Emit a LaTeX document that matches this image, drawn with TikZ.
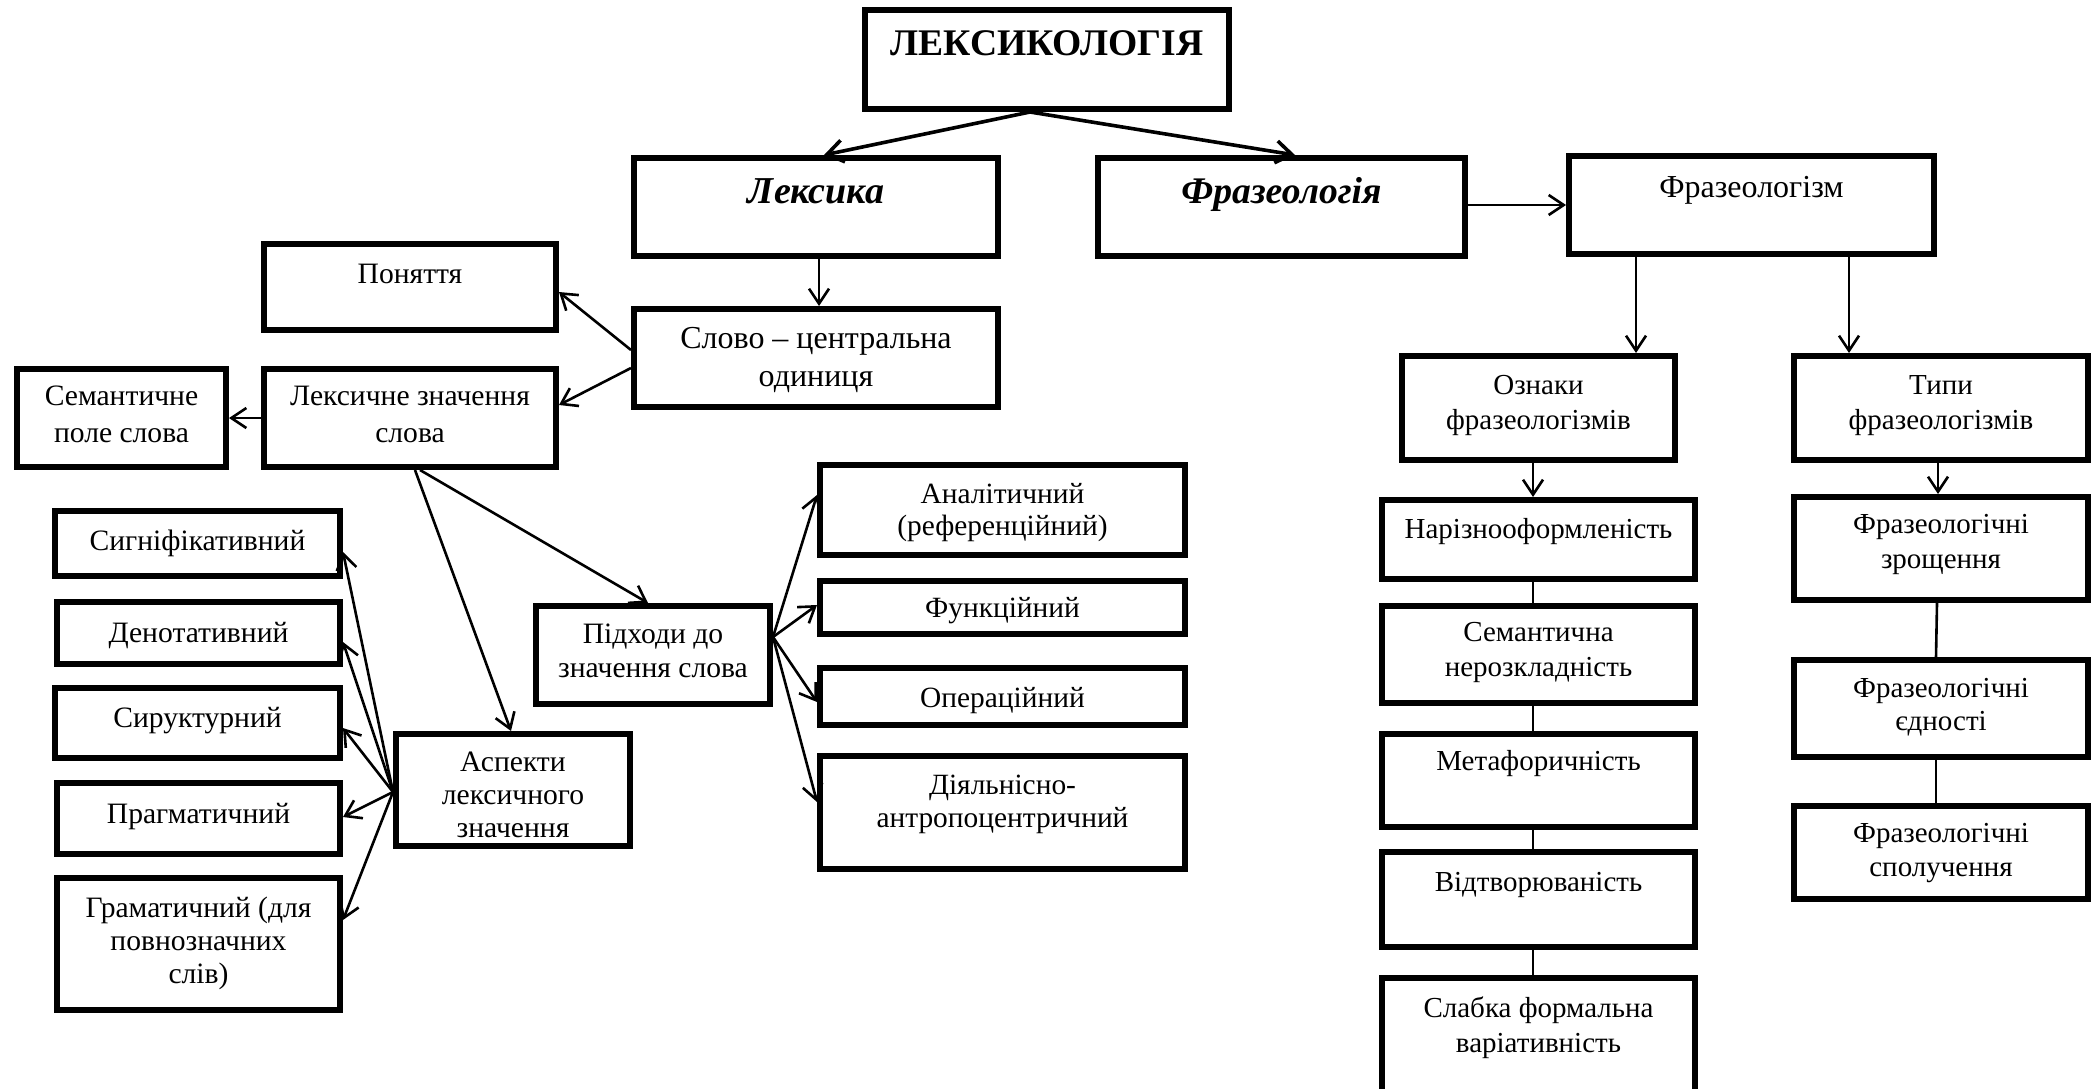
\documentclass[tikz,border=0pt]{standalone}
\usepackage{fontspec}
\setmainfont{Liberation Serif}
\usetikzlibrary{arrows.meta,calc}

\tikzset{
  box/.style={draw, line width=3pt, inner sep=0pt},
  txt/.style={align=center, inner sep=0pt, anchor=north},
  link/.style={line width=1.3pt},
  arr/.style={link, -{Straight Barb[length=7.5pt,width=10pt]}},
  bigarr/.style={line width=1.8pt, -{Straight Barb[length=8pt,width=11pt]}},
}

% \mkbox{name}{x1}{y1}{x2}{y2}{first baseline}{font size}{line skip}{text}
\newcommand{\mkbox}[9]{%
  \node[box, minimum width={(#4-#2-6)*0.5pt}, minimum height={(#5-#3-6)*0.5pt}]
    (#1) at ({(#2+#4)/2},{(#3+#5)/2}) {};
  \node[txt, font={\fontsize{#7}{#8}\selectfont}]
    (#1-t) at ({(#2+#4)/2},{#6-1.4*#8}) {\strut #9};
}

\begin{document}
\begin{tikzpicture}[x=0.5pt,y=-0.5pt]
\path[use as bounding box] (0,0) rectangle (2098,1088);
\fill[white] (0,0) rectangle (2098,1088);
\clip (0,0) rectangle (2098,1088);

% top level
\mkbox{lexk}{862}{7}{1232}{112}{55}{18.8}{21}{\bfseries ЛЕКСИКОЛОГІЯ}
\mkbox{leksyka}{631}{155}{1001}{259}{203}{19}{21}{\bfseries\itshape Лексика}
\mkbox{fraz}{1095}{155}{1468}{259}{203}{18.8}{21}{\bfseries\itshape Фразеологія}
\mkbox{frazm}{1566}{153}{1937}{257}{197}{16}{19}{Фразеологізм}

% lexis branch
\mkbox{ponyattia}{261}{241}{559}{333}{283}{14.8}{18.5}{Поняття}
\mkbox{slovo}{631}{306}{1001}{410}{348}{16}{19}{Слово – центральна\\одиниця}
\mkbox{semant}{14}{366}{229}{470}{405}{14.8}{18.5}{Семантичне\\поле слова}
\mkbox{leksznach}{261}{366}{559}{470}{405}{14.8}{18.5}{Лексичне значення\\слова}

% aspects of lexical meaning
\mkbox{sign}{52}{508}{343}{579}{550}{14.8}{16.5}{Сигніфікативний}
\mkbox{denot}{54}{599}{343}{667}{642}{14.8}{16.5}{Денотативний}
\mkbox{struct}{52}{685}{343}{761}{727}{14.8}{16.5}{Сируктурний}
\mkbox{pragm}{54}{780}{343}{857}{823}{14.8}{16.5}{Прагматичний}
\mkbox{gram}{54}{875}{343}{1013}{917}{14.8}{16.5}{Граматичний (для\\повнозначних\\слів)}
\mkbox{aspekty}{393}{731}{633}{849}{771}{14.8}{16.5}{Аспекти\\лексичного\\значення}

% approaches to word meaning
\mkbox{pidkhody}{533}{603}{773}{707}{643}{14.8}{17}{Підходи до\\значення слова}
\mkbox{analit}{817}{462}{1188}{558}{503}{14.7}{16}{Аналітичний\\(референційний)}
\mkbox{funk}{817}{578}{1188}{637}{617}{14.7}{16}{Функційний}
\mkbox{oper}{817}{665}{1188}{728}{707}{14.7}{16}{Операційний}
\mkbox{diyal}{817}{753}{1188}{872}{794}{14.7}{16.5}{Діяльнісно-\\антропоцентричний}

% phraseology branch
\mkbox{oznaky}{1399}{353}{1678}{463}{394}{14.5}{17.5}{Ознаки\\фразеологізмів}
\mkbox{typy}{1791}{353}{2091}{463}{394}{14.5}{17.5}{Типи\\фразеологізмів}
\mkbox{nariz}{1379}{497}{1698}{582}{538}{14.5}{17.5}{Нарізнооформленість}
\mkbox{semn}{1379}{603}{1698}{706}{641}{14.5}{17.5}{Семантична\\нерозкладність}
\mkbox{metaf}{1379}{731}{1698}{830}{770}{14.5}{17.5}{Метафоричність}
\mkbox{vidtv}{1379}{849}{1698}{950}{891}{14.5}{17.5}{Відтворюваність}
\mkbox{slabka}{1379}{975}{1698}{1120}{1017}{14.5}{17.5}{Слабка формальна\\варіативність}
\mkbox{zrosch}{1791}{494}{2091}{603}{533}{14.5}{17.5}{Фразеологічні\\зрощення}
\mkbox{yedn}{1791}{657}{2091}{760}{697}{14.5}{16.5}{Фразеологічні\\єдності}
\mkbox{spol}{1791}{803}{2091}{902}{842}{14.5}{17}{Фразеологічні\\сполучення}

% connectors
\draw[bigarr] (lexk.south -| 1030,0) -- (leksyka.north -| 824,0);
\draw[bigarr] (lexk.south -| 1030,0) -- (fraz.north -| 1295,0);
\draw[arr] (leksyka.south -| 819,0) -- (slovo.north -| 819,0);
\draw[arr] (slovo.west |- 0,350) -- (ponyattia.east |- 0,292);
\draw[arr] (slovo.west |- 0,368) -- (leksznach.east |- 0,405);
\draw[arr] (leksznach.west |- 0,418) -- (semant.east |- 0,418);
\draw[arr] (leksznach.south -| 415,0) -- (aspekty.north -| 511,0);
\draw[arr] (leksznach.south -| 420,0) -- (pidkhody.north -| 648,0);

\draw[arr] (aspekty.west |- 0,792) -- (sign.east |- 0,552);
\draw[arr] (aspekty.west |- 0,792) -- (denot.east |- 0,642);
\draw[arr] (aspekty.west |- 0,792) -- (struct.east |- 0,728);
\draw[arr] (aspekty.west |- 0,792) -- (pragm.east |- 0,817);
\draw[arr] (aspekty.west |- 0,792) -- (gram.east |- 0,920);

\draw[arr] (pidkhody.east |- 0,637) -- (analit.west |- 0,495);
\draw[arr] (pidkhody.east |- 0,637) -- (funk.west |- 0,605);
\draw[arr] (pidkhody.east |- 0,637) -- (oper.west |- 0,702);
\draw[arr] (pidkhody.east |- 0,637) -- (diyal.west |- 0,802);

\draw[arr] (fraz.east |- 0,205) -- (frazm.west |- 0,205);
\draw[arr] (frazm.south -| 1636,0) -- (oznaky.north -| 1636,0);
\draw[arr] (frazm.south -| 1849,0) -- (typy.north -| 1849,0);
\draw[arr] (oznaky.south -| 1533,0) -- (nariz.north -| 1533,0);
\draw[arr] (typy.south -| 1938,0) -- (zrosch.north -| 1938,0);

\draw[link] (nariz.south -| 1533,0) -- (semn.north -| 1533,0);
\draw[link] (semn.south -| 1533,0) -- (metaf.north -| 1533,0);
\draw[link] (metaf.south -| 1533,0) -- (vidtv.north -| 1533,0);
\draw[link] (vidtv.south -| 1533,0) -- (slabka.north -| 1533,0);
\draw[link] (zrosch.south -| 1937,0) -- (yedn.north -| 1936,0);
\draw[link] (yedn.south -| 1936,0) -- (spol.north -| 1936,0);
\end{tikzpicture}
\end{document}
